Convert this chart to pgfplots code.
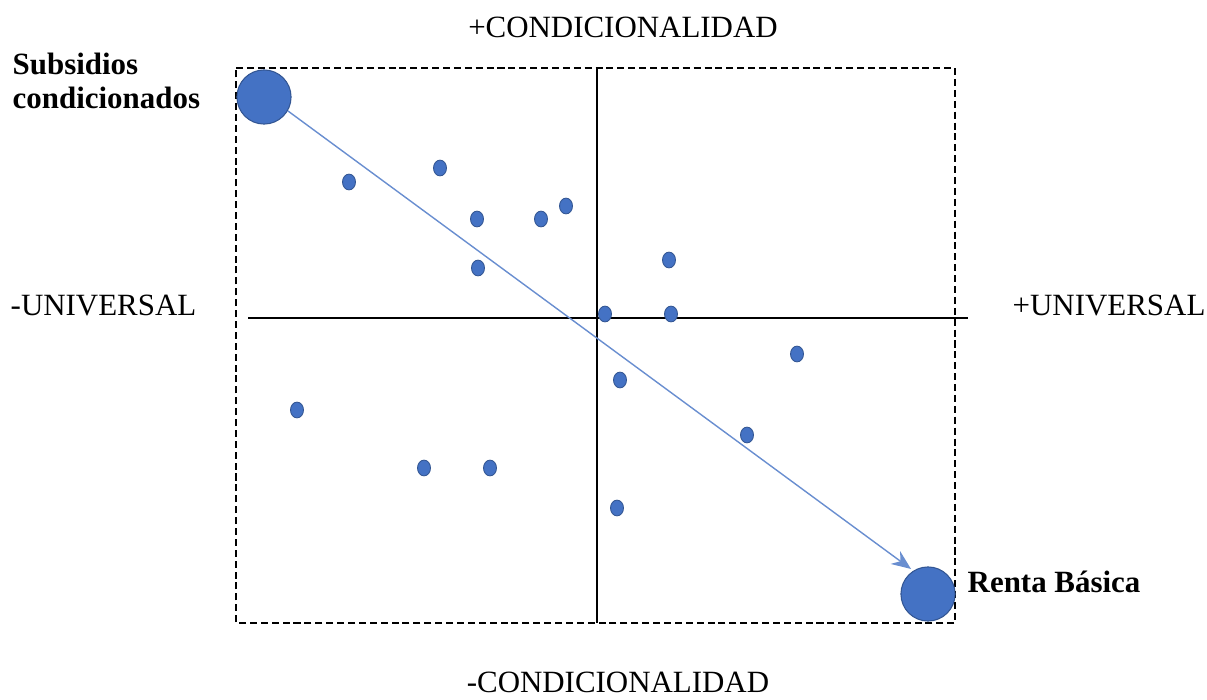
\documentclass[border=0pt]{standalone}
\usepackage{pgfplots}
\pgfplotsset{compat=1.18}
\usetikzlibrary{arrows.meta}
\usepackage{fontspec}
\setmainfont{Liberation Serif}
\definecolor{dotblue}{HTML}{4472C4}
\tikzset{lbl/.style={font=\fontsize{8.8}{10}\selectfont, inner sep=0pt},
         blbl/.style={font=\fontsize{8.8}{10}\selectfont\bfseries, inner sep=0pt}}

\begin{document}
\begin{tikzpicture}
\begin{axis}[
    width=12.07cm, height=7cm, scale only axis,
    xmin=0, xmax=1207, ymin=0, ymax=700, y dir=reverse,
    axis lines=none, clip=false,
]
% invisible frame keeps the page size
\path (axis cs:0,0) rectangle (axis cs:1207,700);

% dashed frame
\addplot[black, line width=0.7pt, dash pattern=on 2pt off 1.1pt]
    coordinates {(236,68) (955,68) (955,623) (236,623) (236,68)};
% cross lines
\addplot[black, line width=0.45pt] coordinates {(597,68) (597,623)};
\addplot[black, line width=0.45pt] coordinates {(248,318) (968,318)};

% arrow
\addplot[dotblue!80, line width=0.4pt, -{Stealth[length=5.5pt, width=4.5pt]}]
    coordinates {(288,111) (911,569)};

% cases
\addplot[only marks, mark=*, mark size=2.25pt, color=dotblue,
    mark options={xscale=0.82, fill=dotblue, draw=dotblue!75!black, line width=0.25pt}]
    coordinates {
    (349,182) (440,168) (477,219) (541,219) (566,206) (478,268)
    (669,260) (605,314) (671,314) (797,354) (620,380) (297,410)
    (747,435) (424,468) (490,468) (617,508)
    };

% extremes
\addplot[only marks, mark=*, mark size=7.7pt, color=dotblue,
    mark options={fill=dotblue, draw=dotblue!75!black, line width=0.3pt}]
    coordinates {(264,97) (928,594)};

% labels
\node[lbl, anchor=base] at (axis cs:623,37) {+CONDICIONALIDAD};
\node[lbl, anchor=base] at (axis cs:618,693) {-CONDICIONALIDAD};
\node[lbl, anchor=base west] at (axis cs:10,315) {-UNIVERSAL};
\node[lbl, anchor=base west] at (axis cs:1012,315) {+UNIVERSAL};
\node[blbl, anchor=base west] at (axis cs:12,74) {Subsidios};
\node[blbl, anchor=base west] at (axis cs:12,108) {condicionados};
\node[blbl, anchor=base west] at (axis cs:967,593) {Renta Básica};
\end{axis}
\end{tikzpicture}
\end{document}
